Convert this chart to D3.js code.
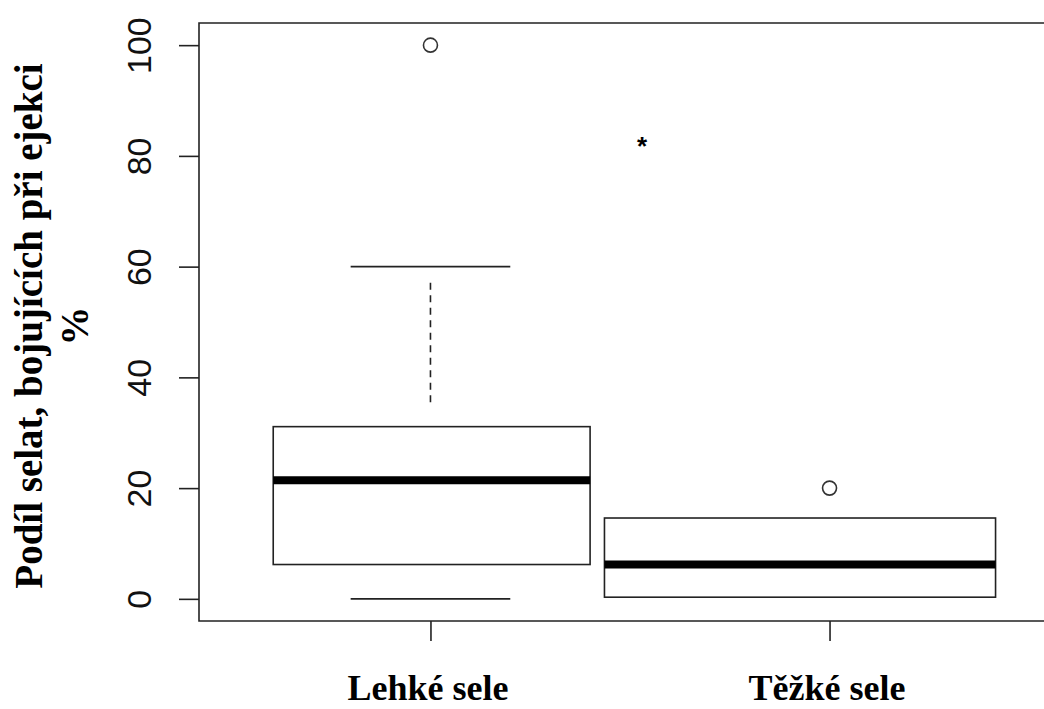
<!DOCTYPE html>
<html>
<head>
<meta charset="utf-8">
<script src="https://cdn.jsdelivr.net/npm/d3@7"></script>
<style>
  html, body { margin: 0; padding: 0; background: #ffffff; }
  svg { display: block; }
</style>
</head>
<body>
<svg id="chart" width="1044" height="709"></svg>
<script>
// Boxplot: share of piglets fighting at ejection, light vs heavy piglets
const categories = ["Lehké sele", "Těžké sele"];
const q1Values = [6.2, 0.3];
const medianValues = [21.4, 6.2];
const q3Values = [31.1, 14.6];
const capHigh = [60, null];
const capLow = [0, null];
const dashedWhisker = [[35.5, 57.3], null];
const outlierValues = [[100], [20]];
const starMark = { pos: 1.53, value: 82.9, text: "*" };
const yTicks = [0, 20, 40, 60, 80, 100];
const yTitle = ["Podíl selat, bojujících při ejekci", "%"];

const svg = d3.select("#chart");

// R-style coordinate system: positions 1..n, 4% padding on each side
const x = d3.scaleLinear().domain([0.42, 2.58]).range([199, 1061]);
const y = d3.scaleLinear().domain([-4, 104]).range([621, 23]);

const ink = "#222";
const boxHalf = [[-0.394, 0.4], [-0.564, 0.416]];

// plot frame (right side runs past the canvas)
svg.append("path")
  .attr("d", `M${x.range()[1]},${y(104)}H${x(0.42)}V${y(-4)}H${x.range()[1]}`)
  .attr("fill", "none").attr("stroke", ink).attr("stroke-width", 1.6);

// y axis
const yAxis = svg.append("g")
  .attr("transform", `translate(${x(0.42)},0)`)
  .call(d3.axisLeft(y).tickValues(yTicks).tickSize(20).tickFormat(d3.format("d")));
yAxis.select(".domain").remove();
yAxis.selectAll(".tick line").attr("stroke", ink).attr("stroke-width", 1.6);
yAxis.selectAll(".tick text").remove();
yAxis.selectAll(".tick").append("text")
  .attr("transform", "translate(-48,0) rotate(-90)")
  .attr("text-anchor", "middle")
  .attr("fill", "#111")
  .style("font-family", "'Liberation Sans', Arial, sans-serif")
  .style("font-size", "34px")
  .text(d => d);

// x axis ticks and labels
const xAxis = svg.append("g")
  .attr("transform", `translate(0,${y(-4)})`)
  .call(d3.axisBottom(x).tickValues([1, 2]).tickSize(20).tickFormat((d, i) => categories[i]));
xAxis.select(".domain").remove();
xAxis.selectAll(".tick line").attr("stroke", ink).attr("stroke-width", 1.6);
xAxis.selectAll(".tick text")
  .attr("y", 79).attr("dy", 0).attr("x", -3)
  .attr("fill", "#000")
  .style("font-family", "'Liberation Serif', 'Times New Roman', serif")
  .style("font-weight", "bold")
  .style("font-size", "36px");

// y axis title, two lines
const yt = svg.append("text")
  .attr("transform", `translate(42,${(y(0) + y(100)) / 2 + 4}) rotate(-90)`)
  .attr("text-anchor", "middle")
  .attr("fill", "#000")
  .style("font-family", "'Liberation Serif', 'Times New Roman', serif")
  .style("font-weight", "bold")
  .style("font-size", "39px");
yt.selectAll("tspan").data(yTitle).join("tspan")
  .attr("x", 0).attr("dy", (d, i) => i === 0 ? 0 : 46)
  .text(d => d);

// boxes
const boxes = categories.map((c, i) => ({
  i, pos: i + 1, q1: q1Values[i], med: medianValues[i], q3: q3Values[i],
  hi: capHigh[i], lo: capLow[i], dash: dashedWhisker[i], out: outlierValues[i]
}));

const g = svg.append("g");
boxes.forEach(b => {
  const [l, r] = boxHalf[b.i];
  // whisker (dashed)
  if (b.dash) {
    g.append("line")
      .attr("x1", x(b.pos)).attr("x2", x(b.pos))
      .attr("y1", y(b.dash[0])).attr("y2", y(b.dash[1]))
      .attr("stroke", ink).attr("stroke-width", 1.6)
      .attr("stroke-dasharray", "7,5.5");
  }
  // whisker caps
  [b.hi, b.lo].forEach(v => {
    if (v === null) return;
    g.append("line")
      .attr("x1", x(b.pos - 0.2)).attr("x2", x(b.pos + 0.2))
      .attr("y1", y(v)).attr("y2", y(v))
      .attr("stroke", ink).attr("stroke-width", 1.6);
  });
  // box
  g.append("rect")
    .attr("x", x(b.pos + l)).attr("width", x(b.pos + r) - x(b.pos + l))
    .attr("y", y(b.q3)).attr("height", y(b.q1) - y(b.q3))
    .attr("fill", "none").attr("stroke", ink).attr("stroke-width", 1.6);
  // median
  g.append("line")
    .attr("x1", x(b.pos + l)).attr("x2", x(b.pos + r))
    .attr("y1", y(b.med)).attr("y2", y(b.med))
    .attr("stroke", "#000").attr("stroke-width", 8);
  // outliers
  b.out.forEach(v => {
    g.append("circle")
      .attr("cx", x(b.pos)).attr("cy", y(v)).attr("r", 7)
      .attr("fill", "none").attr("stroke", "#333").attr("stroke-width", 1.6);
  });
});

// significance mark
svg.append("text")
  .attr("x", x(starMark.pos)).attr("y", y(starMark.value))
  .attr("dy", 15)
  .attr("text-anchor", "middle")
  .attr("fill", "#000")
  .style("font-family", "'Liberation Sans', Arial, sans-serif")
  .style("font-weight", "bold")
  .style("font-size", "26px")
  .text(starMark.text);
</script>
</body>
</html>
